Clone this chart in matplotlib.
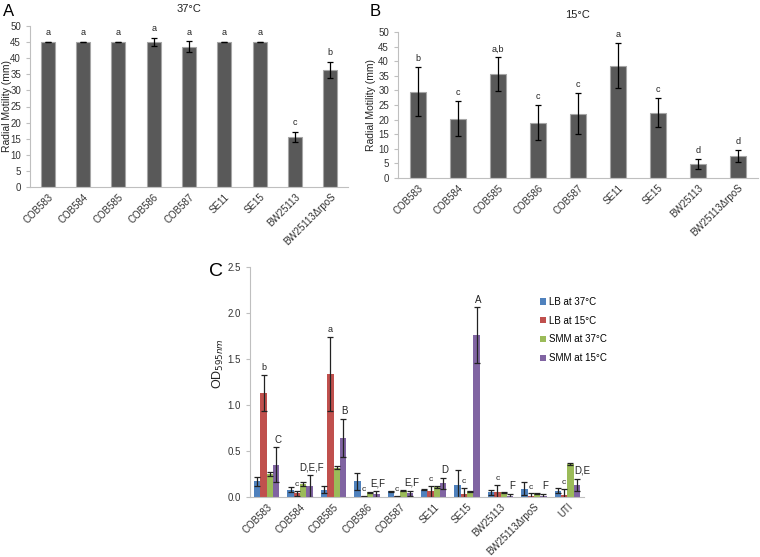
import numpy as np
import matplotlib
matplotlib.use('Agg')
import matplotlib.pyplot as plt

plt.rcParams['font.family'] = ['Liberation Sans', 'DejaVu Sans']

# Datos ---------------------------------------------------------------------------------------------
cepas_ab = ['COB583', 'COB584', 'COB585', 'COB586', 'COB587', 'SE11', 'SE15', 'BW25113', 'BW25113ΔrpoS']

mot_37 = [45.0, 45.0, 45.0, 45.0, 43.6, 45.0, 45.0, 15.6, 36.3]
err_37 = [0.1, 0.1, 0.1, 1.3, 1.6, 0.1, 0.1, 1.5, 2.6]
let_37 = ['a', 'a', 'a', 'a', 'a', 'a', 'a', 'c', 'b']

mot_15 = [29.5, 20.3, 35.5, 19.0, 22.0, 38.5, 22.4, 4.8, 7.6]
err_15 = [8.4, 6.0, 5.8, 6.0, 7.0, 7.8, 5.0, 1.8, 2.0]
let_15 = ['b', 'c', 'a,b', 'c', 'c', 'a', 'c', 'd', 'd']

cepas_c = ['COB583', 'COB584', 'COB585', 'COB586', 'COB587', 'SE11', 'SE15', 'BW25113', 'BW25113ΔrpoS', 'UTI']
series_c = ['LB at 37°C', 'LB at 15°C', 'SMM at 37°C', 'SMM at 15°C']
colores_c = ['#4F81BD', '#C0504D', '#9BBB59', '#8064A2']

lb_37 = [0.17, 0.08, 0.08, 0.17, 0.06, 0.08, 0.13, 0.05, 0.09, 0.07]
lb_37_err = [0.05, 0.03, 0.04, 0.09, 0.005, 0.005, 0.16, 0.03, 0.07, 0.03]
lb_15 = [1.13, 0.04, 1.34, 0.01, 0.01, 0.06, 0.03, 0.05, 0.01, 0.02]
lb_15_err = [0.2, 0.03, 0.4, 0.005, 0.005, 0.06, 0.07, 0.08, 0.03, 0.07]
smm_37 = [0.25, 0.14, 0.32, 0.05, 0.07, 0.11, 0.06, 0.05, 0.04, 0.36]
smm_37_err = [0.02, 0.02, 0.02, 0.005, 0.005, 0.01, 0.01, 0.005, 0.005, 0.01]
smm_15 = [0.35, 0.12, 0.64, 0.03, 0.04, 0.15, 1.76, 0.01, 0.01, 0.13]
smm_15_err = [0.19, 0.12, 0.21, 0.03, 0.03, 0.06, 0.3, 0.02, 0.02, 0.07]

let_lb15 = ['b', 'c', 'a', 'c', 'c', 'c', 'c', 'c', 'c', 'c']
let_smm15 = ['C', 'D,E,F', 'B', 'E,F', 'E,F', 'D', 'A', 'F', 'F', 'D,E']

# Figura --------------------------------------------------------------------------------------------
fig = plt.figure(figsize=(7.6, 5.57), dpi=100)
gris_eje = '#BFBFBF'


def estilo_eje(ax):
    for lado in ['top', 'right']:
        ax.spines[lado].set_visible(False)
    for lado in ['left', 'bottom']:
        ax.spines[lado].set_color(gris_eje)
    ax.tick_params(axis='y', colors=gris_eje, labelcolor='#333333', length=3, labelsize=7)
    ax.tick_params(axis='x', length=0, labelsize=7, labelcolor='#333333')


def panel_motilidad(ax, valores, errores, letras, titulo):
    x = np.arange(len(cepas_ab))
    ax.bar(x, valores, width=0.4, color='#595959', edgecolor='#A6A6A6', linewidth=0.8,
           yerr=errores, error_kw=dict(ecolor='black', elinewidth=0.9, capsize=2, capthick=0.9))
    for i, (v, e, l) in enumerate(zip(valores, errores, letras)):
        ax.text(i, v + e + 1.4, l, ha='center', va='bottom', fontsize=6.5, color='#222222')
    ax.set_xlim(-0.5, len(cepas_ab) - 0.5)
    ax.set_ylim(0, 50)
    ax.set_yticks(range(0, 51, 5))
    ax.set_xticks(x)
    ax.set_xticklabels(cepas_ab, rotation=45, ha='right', rotation_mode='anchor')
    estilo_eje(ax)
    ax.set_title(titulo, fontsize=8, color='#222222', pad=10)


# Panel A
ax_a = fig.add_axes([30 / 760, 1 - 187 / 557, 318 / 760, 161 / 557])
panel_motilidad(ax_a, mot_37, err_37, let_37, '37°C')
ax_a.set_ylabel('Radial Motility (mm)', fontsize=7.5, color='#222222')
ax_a.yaxis.set_label_coords(-0.058, 0.5)
fig.text(3 / 760, 1 - 12 / 557, 'A', fontsize=12, va='center', ha='left')

# Panel B
ax_b = fig.add_axes([398 / 760, 1 - 178 / 557, 360 / 760, 146 / 557])
panel_motilidad(ax_b, mot_15, err_15, let_15, '15°C')
ax_b.set_ylabel('Radial Motility (mm)', fontsize=7.5, color='#222222')
ax_b.yaxis.set_label_coords(-0.062, 0.5)
fig.text(370 / 760, 1 - 12 / 557, 'B', fontsize=12, va='center', ha='left')

# Panel C
ax_c = fig.add_axes([250 / 760, 1 - 497 / 557, 334 / 760, 230 / 557])
xc = np.arange(len(cepas_c))
ancho = 0.19
datos_c = [(lb_37, lb_37_err), (lb_15, lb_15_err), (smm_37, smm_37_err), (smm_15, smm_15_err)]
for k, ((vals, errs), col, nombre) in enumerate(zip(datos_c, colores_c, series_c)):
    pos = xc + (k - 1.5) * ancho
    ax_c.bar(pos, vals, width=ancho, color=col, label=nombre,
             yerr=errs, error_kw=dict(ecolor='#222222', elinewidth=0.9, capsize=2, capthick=0.9))

for i in range(len(cepas_c)):
    # letras minusculas sobre LB 15
    x_r = xc[i] - 0.5 * ancho
    ax_c.text(x_r, lb_15[i] + lb_15_err[i] + 0.03, let_lb15[i], ha='center', va='bottom',
              fontsize=6.5 if i in (0, 2) else 6, color='#222222')
    # letras mayusculas sobre SMM 15
    x_p = xc[i] + 1.5 * ancho
    dx = 0.15 if i == len(cepas_c) - 1 else 0.05
    ax_c.text(x_p + dx, smm_15[i] + smm_15_err[i] + 0.03, let_smm15[i], ha='center', va='bottom',
              fontsize=7, color='#222222')

ax_c.set_xlim(-0.5, len(cepas_c) - 0.5)
ax_c.set_ylim(0, 2.5)
ax_c.set_yticks(np.arange(0, 2.51, 0.5))
ax_c.set_yticklabels([f'{v:.1f}' for v in np.arange(0, 2.51, 0.5)])
ax_c.set_xticks(xc)
ax_c.set_xticklabels(cepas_c, rotation=45, ha='right', rotation_mode='anchor')
estilo_eje(ax_c)
ax_c.set_ylabel(r'OD$_{\mathit{595nm}}$', fontsize=9, color='#222222')
ax_c.yaxis.set_label_coords(-0.072, 0.58)
fig.text(209 / 760, 1 - 271 / 557, 'C', fontsize=14, va='center', ha='left')

ax_c.legend(loc='upper left', bbox_to_anchor=(535 / 760, 1 - 292 / 557), bbox_transform=fig.transFigure,
            frameon=False, fontsize=7, handlelength=0.6, handleheight=0.6, handletextpad=0.3,
            labelspacing=0.9, borderpad=0)

plt.savefig('out.png', dpi=100)
